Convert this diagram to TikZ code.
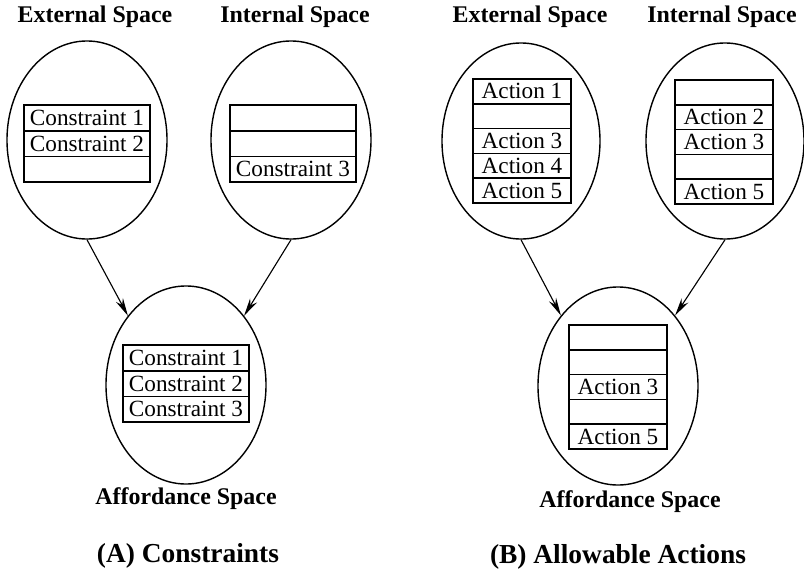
\documentclass[tikz,border=0pt]{standalone}
\usepackage{fontspec}
\setmainfont{Liberation Serif}
\usetikzlibrary{shapes.geometric,positioning,arrows.meta}

\tikzset{
  spacenode/.style={draw, ellipse, line width=1pt, minimum width=4cm, minimum height=4.95cm, inner sep=0pt},
  cellA/.style={draw, line width=1.2pt, minimum width=3.15cm, minimum height=0.642cm, inner sep=0pt, outer sep=0pt, font=\fontsize{16.5}{18}\selectfont},
  cellB/.style={cellA, minimum width=2.45cm, minimum height=0.62cm},
  spacelbl/.style={font=\fontsize{17}{18}\selectfont\bfseries},
  partlbl/.style={font=\fontsize{19.5}{22}\selectfont\bfseries},
  flow/.style={-{Stealth[length=4.5mm,width=2mm]}, line width=0.8pt}
}

\begin{document}
\begin{tikzpicture}[x=0.025cm, y=-0.025cm]
  \useasboundingbox (0,0) rectangle (804,573);

  % (A) constraints
  \node[spacenode] (extA) at (87,140) {};
  \node[spacenode] (intA) at (291,140) {};
  \node[spacenode] (affA) at (186,385) {};
  \node[spacelbl] (extAlbl) at (95,17) {External Space};
  \node[spacelbl] (intAlbl) at (295,17) {Internal Space};
  \node[spacelbl] (affAlbl) at (186,499) {Affordance Space};
  \node[partlbl] (partA) at (188,556) {(A) Constraints};

  \node[cellA, anchor=north west] (ea1) at (24,105) {Constraint 1};
  \node[cellA, below=0pt of ea1] (ea2) {Constraint 2};
  \node[cellA, below=0pt of ea2] (ea3) {};

  \node[cellA, anchor=north west] (ia1) at (230,105) {};
  \node[cellA, below=0pt of ia1] (ia2) {};
  \node[cellA, below=0pt of ia2] (ia3) {Constraint 3};

  \node[cellA, anchor=north west] (fa1) at (123,345) {Constraint 1};
  \node[cellA, below=0pt of fa1] (fa2) {Constraint 2};
  \node[cellA, below=0pt of fa2] (fa3) {Constraint 3};

  \draw[flow] (extA.south) -- (affA.130);
  \draw[flow] (intA.south) -- (affA.50);

  % (B) allowable actions
  \node[spacenode, minimum width=3.95cm, minimum height=4.9cm] (extB) at (521,141) {};
  \node[spacenode, minimum width=3.95cm, minimum height=4.9cm] (intB) at (725,141) {};
  \node[spacenode] (affB) at (618,386) {};
  \node[spacelbl] (extBlbl) at (530,17) {External Space};
  \node[spacelbl] (intBlbl) at (722,17) {Internal Space};
  \node[spacelbl] (affBlbl) at (630,502) {Affordance Space};
  \node[partlbl] (partB) at (618,557) {(B) Allowable Actions};

  \node[cellB, anchor=north west] (eb1) at (473,79) {Action 1};
  \node[cellB, below=0pt of eb1] (eb2) {};
  \node[cellB, below=0pt of eb2] (eb3) {Action 3};
  \node[cellB, below=0pt of eb3] (eb4) {Action 4};
  \node[cellB, below=0pt of eb4] (eb5) {Action 5};

  \node[cellB, anchor=north west] (ib1) at (675,80) {};
  \node[cellB, below=0pt of ib1] (ib2) {Action 2};
  \node[cellB, below=0pt of ib2] (ib3) {Action 3};
  \node[cellB, below=0pt of ib3] (ib4) {};
  \node[cellB, below=0pt of ib4] (ib5) {Action 5};

  \node[cellB, anchor=north west] (fb1) at (569,325) {};
  \node[cellB, below=0pt of fb1] (fb2) {};
  \node[cellB, below=0pt of fb2] (fb3) {Action 3};
  \node[cellB, below=0pt of fb3] (fb4) {};
  \node[cellB, below=0pt of fb4] (fb5) {Action 5};

  \draw[flow] (extB.south) -- (affB.129);
  \draw[flow] (intB.south) -- (affB.51);
\end{tikzpicture}
\end{document}
